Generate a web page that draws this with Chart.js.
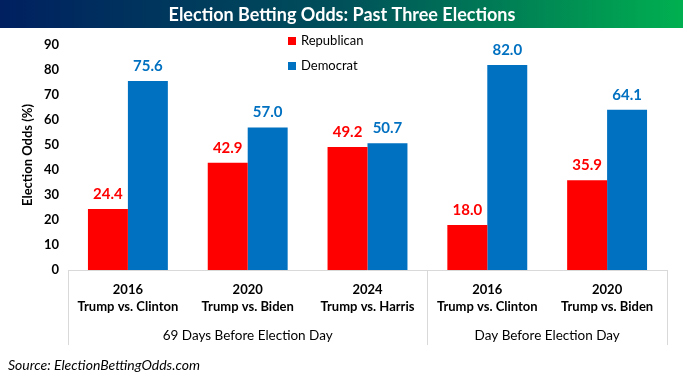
<!DOCTYPE html>
<html>
<head>
<meta charset="utf-8">
<script src="https://cdn.jsdelivr.net/npm/chart.js@4.4.1/dist/chart.umd.min.js"></script>
<style>
html,body{margin:0;padding:0;background:#fff;}
#wrap{position:relative;width:683px;height:381px;}
canvas{display:block;}
</style>
</head>
<body>
<div id="wrap"><canvas id="c" width="683" height="381"></canvas></div>
<script>
const titleText = 'Election Betting Odds: Past Three Elections';
const sourceText = 'Source: ElectionBettingOdds.com';
const yAxisTitle = 'Election Odds (%)';
const years = ['2016', '2020', '2024', '2016', '2020'];
const matchups = ['Trump vs. Clinton', 'Trump vs. Biden', 'Trump vs. Harris', 'Trump vs. Clinton', 'Trump vs. Biden'];
const groupLabels = ['69 Days Before Election Day', 'Day Before Election Day'];
const groupSizes = [3, 2];
const republican = [24.4, 42.9, 49.2, 18.0, 35.9];
const democrat = [75.6, 57.0, 50.7, 82.0, 64.1];
const yTicks = [0, 10, 20, 30, 40, 50, 60, 70, 80, 90];

const RED = '#FF0000', BLUE = '#0070C0';
const FONT = 'Lato, "Open Sans", sans-serif';

const extras = {
  id: 'extras',
  beforeDraw(chart) {
    const ctx = chart.ctx;
    ctx.save();
    const g = ctx.createLinearGradient(0, 0, chart.width, 0);
    g.addColorStop(0, '#002060');
    g.addColorStop(0.5, '#00505A');
    g.addColorStop(1, '#00B050');
    ctx.fillStyle = g;
    ctx.fillRect(0, 0, chart.width, 28);
    ctx.fillStyle = '#fff';
    ctx.font = 'bold 18px ' + FONT;
    ctx.textAlign = 'center';
    ctx.textBaseline = 'middle';
    ctx.fillText(titleText, 342, 15);
    ctx.restore();
  },
  afterDraw(chart) {
    const ctx = chart.ctx;
    const area = chart.chartArea;
    ctx.save();
    // axis line and separators
    ctx.strokeStyle = '#D9D9D9';
    ctx.lineWidth = 1;
    ctx.beginPath();
    ctx.moveTo(area.left, area.bottom + 0.5);
    ctx.lineTo(area.right, area.bottom + 0.5);
    const step = (area.right - area.left) / years.length;
    let idx = 0;
    const bounds = [area.left];
    groupSizes.forEach(s => { idx += s; bounds.push(area.left + step * idx); });
    bounds.forEach(b => {
      const x = Math.round(b) + 0.5;
      ctx.moveTo(x, area.bottom);
      ctx.lineTo(x, area.bottom + 75);
    });
    ctx.stroke();
    // group labels
    ctx.fillStyle = '#000';
    ctx.font = '13.5px ' + FONT;
    ctx.textAlign = 'center';
    ctx.textBaseline = 'middle';
    groupLabels.forEach((t, i) => {
      ctx.fillText(t, (bounds[i] + bounds[i + 1]) / 2, area.bottom + 66);
    });
    // y axis title
    ctx.save();
    ctx.translate(28, 155);
    ctx.rotate(-Math.PI / 2);
    ctx.font = 'bold 13px ' + FONT;
    ctx.fillText(yAxisTitle, 0, 0);
    ctx.restore();
    // legend
    chart.data.datasets.forEach((ds, i) => {
      const y = 41 + i * 25;
      ctx.fillStyle = ds.backgroundColor;
      ctx.fillRect(288, y - 4, 8, 8);
      ctx.fillStyle = '#000';
      ctx.font = '13px ' + FONT;
      ctx.textAlign = 'left';
      ctx.fillText(ds.label, 301, y);
    });
    // data labels
    chart.data.datasets.forEach((ds, i) => {
      const meta = chart.getDatasetMeta(i);
      ctx.fillStyle = ds.backgroundColor;
      ctx.font = 'bold 15px ' + FONT;
      ctx.textAlign = 'center';
      ctx.textBaseline = 'middle';
      meta.data.forEach((el, j) => {
        ctx.fillText(ds.data[j].toFixed(1), el.x, el.y - 15);
      });
    });
    // source
    ctx.fillStyle = '#000';
    ctx.font = 'italic 14px ' + FONT;
    ctx.textAlign = 'left';
    ctx.fillText(sourceText, 8, 365);
    ctx.restore();
  }
};

new Chart(document.getElementById('c'), {
  type: 'bar',
  data: {
    labels: years.map((y, i) => [y, matchups[i]]),
    datasets: [
      { label: 'Republican', data: republican, backgroundColor: RED },
      { label: 'Democrat', data: democrat, backgroundColor: BLUE }
    ]
  },
  options: {
    responsive: false,
    animation: false,
    devicePixelRatio: 1,
    layout: { padding: { left: 0, right: 16, top: 45, bottom: 0 } },
    plugins: { legend: { display: false }, title: { display: false }, tooltip: { enabled: false } },
    datasets: { bar: { categoryPercentage: 0.667, barPercentage: 1.0 } },
    scales: {
      x: {
        grid: { display: false, drawTicks: false },
        border: { display: false },
        ticks: { color: '#000', font: { family: FONT, size: 13, weight: 'bold', lineHeight: 1.3 }, padding: 11, maxRotation: 0, autoSkip: false },
        afterFit(s) { s.height = 111; }
      },
      y: {
        min: 0, max: 90,
        afterBuildTicks(s) { s.ticks = yTicks.map(v => ({ value: v })); },
        grid: { display: false, drawTicks: false },
        border: { display: false },
        ticks: { color: '#000', font: { family: FONT, size: 13, weight: 'bold' }, padding: 9 },
        afterFit(s) { s.width = 68; }
      }
    }
  },
  plugins: [extras]
});
</script>
</body>
</html>
